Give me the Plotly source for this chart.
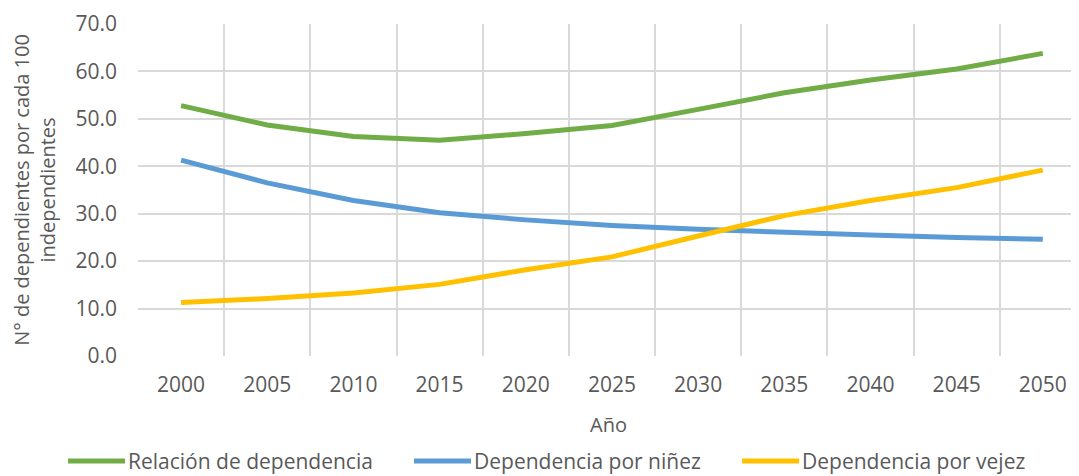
import plotly.graph_objects as go

years = ["2000", "2005", "2010", "2015", "2020", "2025", "2030", "2035", "2040", "2045", "2050"]
relacion = [52.8, 48.7, 46.3, 45.5, 46.9, 48.6, 52.0, 55.5, 58.2, 60.5, 63.8]
ninez = [41.3, 36.5, 32.8, 30.2, 28.7, 27.5, 26.7, 26.0, 25.5, 25.0, 24.6]
vejez = [11.3, 12.1, 13.3, 15.1, 18.2, 20.9, 25.3, 29.6, 32.8, 35.5, 39.2]

series_names = ["Relación de dependencia", "Dependencia por niñez", "Dependencia por vejez"]
colors = ["#70AD47", "#5B9BD5", "#FFC000"]

FONT = "Open Sans"
TEXT = "#595959"
GRID = "#D9D9D9"

# the page body has an 8px margin, so the figure is shrunk by that much
OFF = 8
W, H = 1079 - OFF, 476 - OFF
M_L, M_R, M_T, M_B = 138 - OFF, 0, 24 - OFF, 120

fig = go.Figure()
for name, vals, color in zip(series_names, [relacion, ninez, vejez], colors):
    fig.add_trace(go.Scatter(
        x=years, y=vals, name=name, mode="lines",
        line={"color": color, "width": 5},
        showlegend=False,
    ))

# legend drawn by hand so the sample lines match the long Excel swatches
plot_w = W - M_L - M_R
plot_h = H - M_T - M_B
legend_y = (H - M_B - (461 - OFF)) / plot_h
legend_starts = [68, 414, 742]
shapes = []
annotations = []
for name, color, start in zip(series_names, colors, legend_starts):
    x0 = (start - OFF - M_L) / plot_w
    x1 = (start + 57 - OFF - M_L) / plot_w
    shapes.append({
        "type": "line", "xref": "paper", "yref": "paper",
        "x0": x0, "x1": x1, "y0": legend_y, "y1": legend_y,
        "line": {"color": color, "width": 5},
    })
    annotations.append({
        "xref": "paper", "yref": "paper", "x": x1, "y": legend_y,
        "text": name, "showarrow": False, "xanchor": "left", "yanchor": "middle",
        "xshift": 1, "font": {"family": FONT, "size": 21, "color": TEXT},
    })

fig.update_layout(
    width=W, height=H,
    margin={"l": M_L, "r": M_R, "t": M_T, "b": M_B, "pad": 0},
    plot_bgcolor="white", paper_bgcolor="white",
    font={"family": FONT, "size": 21, "color": TEXT},
    shapes=shapes, annotations=annotations,
    xaxis={
        "type": "category",
        "range": [-0.5, 10.42],
        "tickson": "boundaries",
        "showgrid": True, "gridcolor": GRID, "gridwidth": 2,
        "showline": False, "zeroline": False,
        "ticks": "", "ticklabelstandoff": 14,
        "title": {"text": "Año", "standoff": 20, "font": {"size": 20}},
    },
    yaxis={
        "range": [0, 70], "dtick": 10, "tickformat": ".1f",
        "showgrid": True, "gridcolor": GRID, "gridwidth": 2,
        "zeroline": False, "showline": False,
        "ticks": "", "ticklabelstandoff": 20,
        "title": {"text": "N° de dependientes por cada 100<br>independientes",
                  "standoff": 16, "font": {"size": 20}},
    },
)

fig.write_html("out.html")
